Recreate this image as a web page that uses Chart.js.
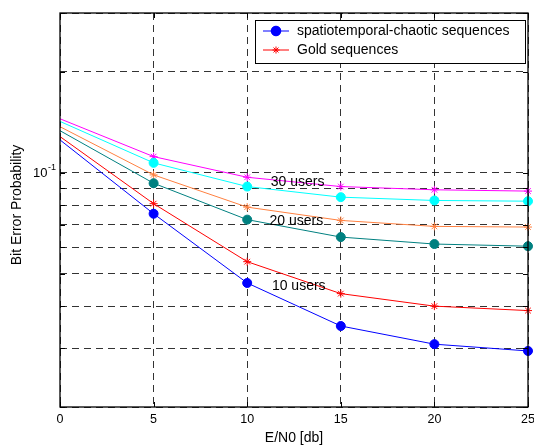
<!DOCTYPE html>
<html>
<head>
<meta charset="utf-8">
<script src="https://cdn.jsdelivr.net/npm/chart.js@4/dist/chart.umd.min.js"></script>
<style>
  html, body { margin: 0; padding: 0; background: #ffffff; }
  #wrap { width: 534px; height: 447px; }
</style>
</head>
<body>
<div id="wrap"><canvas id="c" width="534" height="447"></canvas></div>
<script>
// ---- data ----
const snr = [0, 5, 10, 15, 20, 25];
const chaotic10 = [0.1254, 0.0755, 0.0469, 0.0349, 0.0308, 0.0294];
const gold10    = [0.1283, 0.0809, 0.0543, 0.0436, 0.0400, 0.0388];
const chaotic20 = [0.1336, 0.0931, 0.0725, 0.0643, 0.0613, 0.0604];
const gold20    = [0.1373, 0.0986, 0.0790, 0.0721, 0.0692, 0.0689];
const chaotic30 = [0.1424, 0.1071, 0.0910, 0.0846, 0.0827, 0.0823];
const gold30    = [0.1450, 0.1118, 0.0970, 0.0910, 0.0890, 0.0882];
const yGridValues = [0.02, 0.03, 0.04, 0.05, 0.06, 0.07, 0.08, 0.09, 0.1, 0.2, 0.3];
const xTickValues = [0, 5, 10, 15, 20, 25];
const legendLabels = ['spatiotemporal-chaotic sequences', 'Gold sequences'];
const yTitle = 'Bit Error Probability';
const xTitle = 'E/N0 [db]';
const userLabels = [
  { text: '30 users', x: 11.26, y: 0.0938 },
  { text: '20 users', x: 11.19, y: 0.0718 },
  { text: '10 users', x: 11.32, y: 0.0459 }
];

const FONT = "'Liberation Sans', Arial, sans-serif";
const pts = arr => arr.map((v, i) => ({ x: snr[i], y: v }));
const radii = r => snr.map((s, i) => i === 0 ? 0 : r);

function ds(data, color, style, r) {
  return {
    data: pts(data),
    borderColor: color,
    backgroundColor: color,
    borderWidth: 1,
    pointStyle: style,
    pointRadius: radii(r),
    pointBorderWidth: 1,
    pointBorderColor: color,
    pointBackgroundColor: color,
    tension: 0,
    clip: false
  };
}

const datasets = [
  ds(chaotic30, '#00FFFF', 'circle', 4.5),
  ds(gold30, '#FF00FF', 'star', 4),
  ds(chaotic20, '#008080', 'circle', 4.5),
  ds(gold20, '#FF8040', 'star', 4),
  ds(gold10, '#FF0000', 'star', 4),
  ds(chaotic10, '#0000FF', 'circle', 4.5)
];

const decorPlugin = {
  id: 'decor',
  afterDraw(chart) {
    const ctx = chart.ctx;
    const a = chart.chartArea;
    const xs = chart.scales.x, ys = chart.scales.y;
    ctx.save();
    // inward tick marks
    ctx.strokeStyle = '#000';
    ctx.lineWidth = 1;
    ctx.setLineDash([]);
    ctx.beginPath();
    yGridValues.forEach(v => {
      const py = Math.round(ys.getPixelForValue(v)) + 0.5;
      ctx.moveTo(a.left, py); ctx.lineTo(a.left + 5, py);
      ctx.moveTo(a.right, py); ctx.lineTo(a.right - 5, py);
    });
    xTickValues.forEach(v => {
      const px = Math.round(xs.getPixelForValue(v)) + 0.5;
      ctx.moveTo(px, a.bottom); ctx.lineTo(px, a.bottom - 5);
      ctx.moveTo(px, a.top); ctx.lineTo(px, a.top + 5);
    });
    ctx.stroke();
    // axes box
    ctx.lineWidth = 1.3;
    ctx.strokeRect(a.left, a.top, a.right - a.left, a.bottom - a.top);

    // y tick label 10^-1
    const y01 = ys.getPixelForValue(0.1);
    ctx.fillStyle = '#000';
    ctx.textBaseline = 'middle';
    ctx.textAlign = 'right';
    ctx.font = '13px ' + FONT;
    ctx.fillText('10', 47.5, y01 + 1);
    ctx.textAlign = 'left';
    ctx.font = '9px ' + FONT;
    ctx.fillText('-1', 48, y01 - 5.5);

    // y axis title
    ctx.save();
    ctx.translate(17, 205);
    ctx.rotate(-Math.PI / 2);
    ctx.font = '14px ' + FONT;
    ctx.textAlign = 'center';
    ctx.textBaseline = 'middle';
    ctx.fillText(yTitle, 0, 0);
    ctx.restore();

    // user annotations
    ctx.font = '14px ' + FONT;
    ctx.textAlign = 'left';
    ctx.textBaseline = 'middle';
    userLabels.forEach(l => {
      ctx.fillText(l.text, xs.getPixelForValue(l.x), ys.getPixelForValue(l.y));
    });

    // legend
    const lx = 255.5, ly = 20.5, lw = 270, lh = 43;
    ctx.fillStyle = '#fff';
    ctx.fillRect(lx, ly, lw, lh);
    ctx.strokeStyle = '#000';
    ctx.lineWidth = 1;
    ctx.strokeRect(lx, ly, lw, lh);
    const entries = [
      { color: '#0000FF', style: 'circle', r: 4.8 },
      { color: '#FF0000', style: 'star', r: 3.5 }
    ];
    entries.forEach((e, i) => {
      const cy = 31 + i * 19;
      ctx.strokeStyle = e.color;
      ctx.lineWidth = 1;
      ctx.beginPath();
      ctx.moveTo(263, cy); ctx.lineTo(289, cy);
      ctx.stroke();
      ctx.fillStyle = e.color;
      Chart.helpers.drawPoint(ctx, { pointStyle: e.style, radius: e.r, borderWidth: 1, rotation: 0 }, 276, cy);
      if (e.style === 'circle') { ctx.fill(); }
      ctx.fillStyle = '#000';
      ctx.font = '14px ' + FONT;
      ctx.textAlign = 'left';
      ctx.textBaseline = 'middle';
      ctx.fillText(legendLabels[i], 297, cy + 0.5);
    });
    ctx.restore();
  }
};

new Chart(document.getElementById('c'), {
  type: 'line',
  data: { datasets },
  options: {
    responsive: false,
    devicePixelRatio: 1,
    animation: false,
    layout: { padding: { top: 13, right: 6, left: 0, bottom: 0 } },
    plugins: { legend: { display: false }, tooltip: { enabled: false } },
    scales: {
      x: {
        type: 'linear',
        min: 0, max: 25,
        afterBuildTicks: s => { s.ticks = xTickValues.map(v => ({ value: v })); },
        afterFit: s => { s.height = 40; s.paddingLeft = 0; s.paddingRight = 0; },
        ticks: { color: '#000', font: { family: FONT, size: 12.5 }, padding: 5, maxRotation: 0 },
        grid: { color: 'rgba(0,0,0,0.8)', lineWidth: 1, drawTicks: false },
        border: { display: false, dash: [7, 5] },
        title: { display: true, text: xTitle, color: '#000', font: { family: FONT, size: 14 }, padding: { top: 0, bottom: 0 } }
      },
      y: {
        type: 'logarithmic',
        min: 0.02, max: 0.3,
        afterBuildTicks: s => { s.ticks = yGridValues.map(v => ({ value: v })); },
        afterFit: s => { s.width = 60; s.paddingTop = 0; s.paddingBottom = 0; },
        ticks: { display: false },
        grid: { color: 'rgba(0,0,0,0.8)', lineWidth: 1, drawTicks: false },
        border: { display: false, dash: [7, 5] },
        title: { display: false }
      }
    }
  },
  plugins: [decorPlugin]
});
</script>
</body>
</html>
